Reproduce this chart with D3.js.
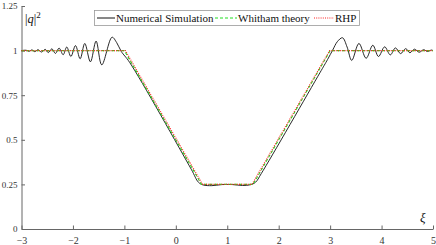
<!DOCTYPE html>
<html>
<head>
<meta charset="utf-8">
<script src="https://cdn.jsdelivr.net/npm/d3@7"></script>
<style>
  body { margin: 0; background: #fff; }
  svg { display: block; font-family: "Liberation Serif", "DejaVu Serif", serif; }
  svg text { font-family: "Liberation Serif", "DejaVu Serif", serif; }
</style>
</head>
<body>
<div id="chart"></div>
<script>
// chart values
const xTicks = [-3, -2, -1, 0, 1, 2, 3, 4, 5];
const yTicks = [0, 0.25, 0.5, 0.75, 1, 1.25];
const yTickLabels = ["0", "0.25", "0.5", "0.75", "1", "1.25"];

const whithamXi = [-3, -1, 0.5, 1.5, 3, 5];
const whithamQ = [1, 1, 0.25, 0.25, 1, 1];

const rhpXi = [-3, -0.98, 0.52, 1.48, 2.99, 5];
const rhpQ = [1, 1, 0.25, 0.25, 1, 1];

const simXi = [-3.00, -2.91, -2.85, -2.80, -2.74, -2.68, -2.61, -2.54, -2.48, -2.41,
  -2.34, -2.27, -2.19, -2.12, -2.04, -1.95, -1.86, -1.77, -1.66, -1.55,
  -1.44, -1.24, -1.15, -1.06, -0.90, 0.30, 0.44, 0.53, 0.70, 0.90,
  1.10, 1.30, 1.45, 1.55, 1.66, 2.80, 2.95, 3.05, 3.14, 3.24,
  3.33, 3.42, 3.56, 3.70, 3.83, 3.94, 4.06, 4.17, 4.27, 4.37,
  4.47, 4.55, 4.64, 4.73, 4.82, 4.89, 4.97, 5.00];
const simQ = [1.000, 1.002, 0.996, 1.004, 0.994, 1.005, 0.992, 1.007, 0.989, 1.010,
  0.984, 1.014, 0.977, 1.020, 0.967, 1.028, 0.954, 1.040, 0.937, 1.053,
  0.920, 1.075, 1.045, 0.995, 0.935, 0.335, 0.262, 0.247, 0.243, 0.249,
  0.249, 0.244, 0.248, 0.262, 0.310, 0.875, 0.950, 1.003, 1.050, 1.072,
  1.020, 0.945, 1.040, 0.957, 1.030, 0.967, 1.021, 0.976, 1.015, 0.983,
  1.011, 0.988, 1.008, 0.991, 1.005, 0.995, 1.003, 1.000];

const legendNames = ["Numerical Simulation", "Whitham theory", "RHP"];

const width = 436, height = 245;
const plot = {left: 21.5, right: 433, top: 6, bottom: 229};

const svg = d3.select("#chart").append("svg")
    .attr("width", width)
    .attr("height", height);

const x = d3.scaleLinear().domain([-3, 5]).range([plot.left, plot.right]);
const y = d3.scaleLinear().domain([0, 1.25]).range([plot.bottom, plot.top]);

const axisColor = "#666";
const serif = "'Liberation Serif', 'DejaVu Serif', serif";

// x axis, ticks pointing inward
const xAxis = svg.append("g")
    .attr("transform", "translate(0," + plot.bottom + ")")
    .call(d3.axisBottom(x).tickValues(xTicks).tickSizeInner(-3.5).tickSizeOuter(0).tickPadding(8)
        .tickFormat(d3.format("d")));
xAxis.attr("font-family", null);
xAxis.select(".domain").attr("stroke", axisColor);
xAxis.selectAll(".tick line").attr("stroke", axisColor);
xAxis.selectAll(".tick text")
    .attr("fill", "#333")
    .style("font-size", "10px")
    .style("font-family", serif);

// y axis
const yAxis = svg.append("g")
    .attr("transform", "translate(" + plot.left + ",0)")
    .call(d3.axisLeft(y).tickValues(yTicks).tickSizeInner(-3.5).tickSizeOuter(0).tickPadding(4)
        .tickFormat(function(d, i){ return yTickLabels[i]; }));
yAxis.attr("font-family", null);
yAxis.select(".domain").attr("stroke", axisColor);
yAxis.selectAll(".tick line").attr("stroke", axisColor);
yAxis.selectAll(".tick text")
    .attr("fill", "#333")
    .style("font-size", "9px")
    .style("font-family", serif);

// curves
const straight = d3.line()
    .x(function(d){ return x(d[0]); })
    .y(function(d){ return y(d[1]); });

const smooth = d3.line()
    .x(function(d){ return x(d[0]); })
    .y(function(d){ return y(d[1]); })
    .curve(d3.curveCatmullRom.alpha(0.5));

const simData = d3.zip(simXi, simQ);
const whithamData = d3.zip(whithamXi, whithamQ);
const rhpData = d3.zip(rhpXi, rhpQ);

svg.append("path")
    .datum(simData)
    .attr("d", smooth)
    .attr("fill", "none")
    .attr("stroke", "#111")
    .attr("stroke-width", 0.9);

svg.append("path")
    .datum(whithamData)
    .attr("d", straight)
    .attr("fill", "none")
    .attr("stroke", "#22dd22")
    .attr("stroke-width", 1.1)
    .attr("stroke-dasharray", "3,2");

svg.append("path")
    .datum(rhpData)
    .attr("d", straight)
    .attr("fill", "none")
    .attr("stroke", "#ff2020")
    .attr("stroke-width", 1.1)
    .attr("stroke-dasharray", "1,1.2");

// axis labels
const ylab = svg.append("text")
    .attr("x", 25)
    .attr("y", 23)
    .style("font-size", "12.5px")
    .attr("fill", "#111");
ylab.append("tspan").text("|");
ylab.append("tspan").style("font-style", "italic").text("q");
ylab.append("tspan").text("|");
ylab.append("tspan").attr("dy", -5).style("font-size", "9px").text("2");

svg.append("text")
    .attr("x", 420)
    .attr("y", 222)
    .style("font-size", "13px")
    .style("font-style", "italic")
    .attr("fill", "#111")
    .text("ξ");

// legend
const legend = svg.append("g");
legend.append("rect")
    .attr("x", 94.5).attr("y", 10.5)
    .attr("width", 265).attr("height", 15)
    .attr("fill", "#fff")
    .attr("stroke", "#999")
    .attr("stroke-width", 0.8);

const legendItems = [
  {x1: 97, x2: 115, tx: 116, stroke: "#111", dash: null},
  {x1: 215, x2: 237, tx: 238, stroke: "#22dd22", dash: "3,2"},
  {x1: 314, x2: 334, tx: 335, stroke: "#ff2020", dash: "1,1.2"}
];
legendItems.forEach(function(it, i){
  legend.append("line")
      .attr("x1", it.x1).attr("x2", it.x2)
      .attr("y1", 18).attr("y2", 18)
      .attr("stroke", it.stroke)
      .attr("stroke-width", 1)
      .attr("stroke-dasharray", it.dash);
  legend.append("text")
      .attr("x", it.tx)
      .attr("y", 21.8)
      .style("font-size", "11px")
      .attr("fill", "#111")
      .text(legendNames[i]);
});
</script>
</body>
</html>
